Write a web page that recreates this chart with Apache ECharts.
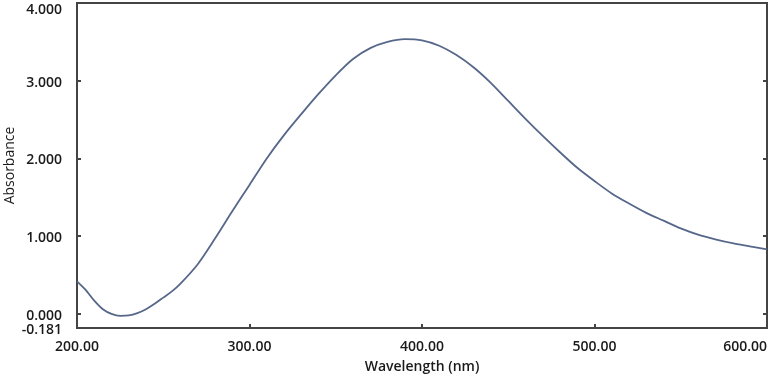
<!DOCTYPE html>
<html>
<head>
<meta charset="utf-8">
<script src="https://cdn.jsdelivr.net/npm/echarts@6/dist/echarts.min.js"></script>
<style>
html,body{margin:0;padding:0;background:#fff;}
#c{width:777px;height:380px;}
</style>
</head>
<body>
<div id="c"></div>
<script>
const wavelengths = [200, 205, 210, 215, 220, 225, 230, 235, 240, 245, 250, 255, 260, 270, 280, 290, 300, 310, 320, 330, 340, 350, 360, 370, 380, 390, 400, 410, 420, 430, 440, 450, 460, 470, 480, 490, 500, 510, 520, 530, 540, 550, 560, 570, 580, 590, 600];
const absorbance  = [0.42, 0.31, 0.17, 0.06, 0.00, -0.025, -0.02, 0.01, 0.06, 0.13, 0.21, 0.29, 0.39, 0.64, 0.97, 1.32, 1.66, 2.00, 2.30, 2.57, 2.83, 3.07, 3.28, 3.42, 3.50, 3.535, 3.52, 3.45, 3.33, 3.17, 2.97, 2.74, 2.51, 2.29, 2.08, 1.88, 1.71, 1.55, 1.42, 1.30, 1.20, 1.10, 1.02, 0.96, 0.91, 0.87, 0.83];
const xTicks = [200, 300, 400, 500, 600];
const yLabels = [-0.181, 0, 1, 2, 3, 4];
const yTicks = [0, 1, 2, 3, 4];

const font = {fontFamily: 'Open Sans', fontSize: 14, color: '#1a1a1a', fontWeight: 600};
const lineStyle = {color: '#444', width: 2};

const chart = echarts.init(document.getElementById('c'));
chart.setOption({
  animation: false,
  backgroundColor: '#fff',
  grid: {left: 77, right: 10, top: 3, bottom: 52, show: true, borderColor: '#444', borderWidth: 2, containLabel: false, outerBoundsMode: 'none'},
  xAxis: [{
    type: 'value', min: 200, max: 600, interval: 100,
    name: 'Wavelength (nm)', nameLocation: 'middle', nameGap: 32, nameMoveOverlap: false,
    nameTextStyle: Object.assign({}, font, {fontSize: 14}),
    axisLine: {show: true, onZero: false, lineStyle: lineStyle},
    axisTick: {show: true, inside: true, length: 4, lineStyle: {color: '#444', width: 2}, customValues: xTicks.slice(1, -1)},
    axisLabel: Object.assign({}, font, {margin: 12, formatter: v => v.toFixed(2), customValues: xTicks, alignMaxLabel: 'right'}),
    splitLine: {show: false}
  }],
  yAxis: [{
    type: 'value', min: -0.181, max: 4,
    name: 'Absorbance', nameLocation: 'middle', nameGap: 60, nameRotate: 90, nameMoveOverlap: false,
    nameTextStyle: Object.assign({}, font, {fontSize: 14, fontWeight: 'normal'}),
    axisLine: {show: true, onZero: false, lineStyle: lineStyle},
    axisTick: {show: true, inside: true, length: 4, lineStyle: {color: '#444', width: 2}, customValues: yTicks},
    axisLabel: Object.assign({}, font, {
      margin: 15,
      customValues: yLabels,
      formatter: v => v === 4 ? '{top|' + v.toFixed(3) + '}' : '{n|' + v.toFixed(3) + '}',
      rich: {
        top: Object.assign({}, font, {padding: [14, 0, 0, 0]}),
        n: Object.assign({}, font, {padding: [4, 0, 0, 0]})
      }
    }),
    splitLine: {show: false}
  }, {
    type: 'value', min: -0.181, max: 4, position: 'right',
    axisLine: {show: true, onZero: false, lineStyle: lineStyle},
    axisTick: {show: true, inside: true, length: 4, lineStyle: {color: '#444', width: 2}, customValues: yTicks},
    axisLabel: {show: false},
    splitLine: {show: false}
  }],
  series: [{
    type: 'line',
    data: wavelengths.map((w, i) => [w, absorbance[i]]),
    smooth: 0.3,
    showSymbol: false,
    lineStyle: {color: '#56678a', width: 1.8}
  }]
});
</script>
</body>
</html>
